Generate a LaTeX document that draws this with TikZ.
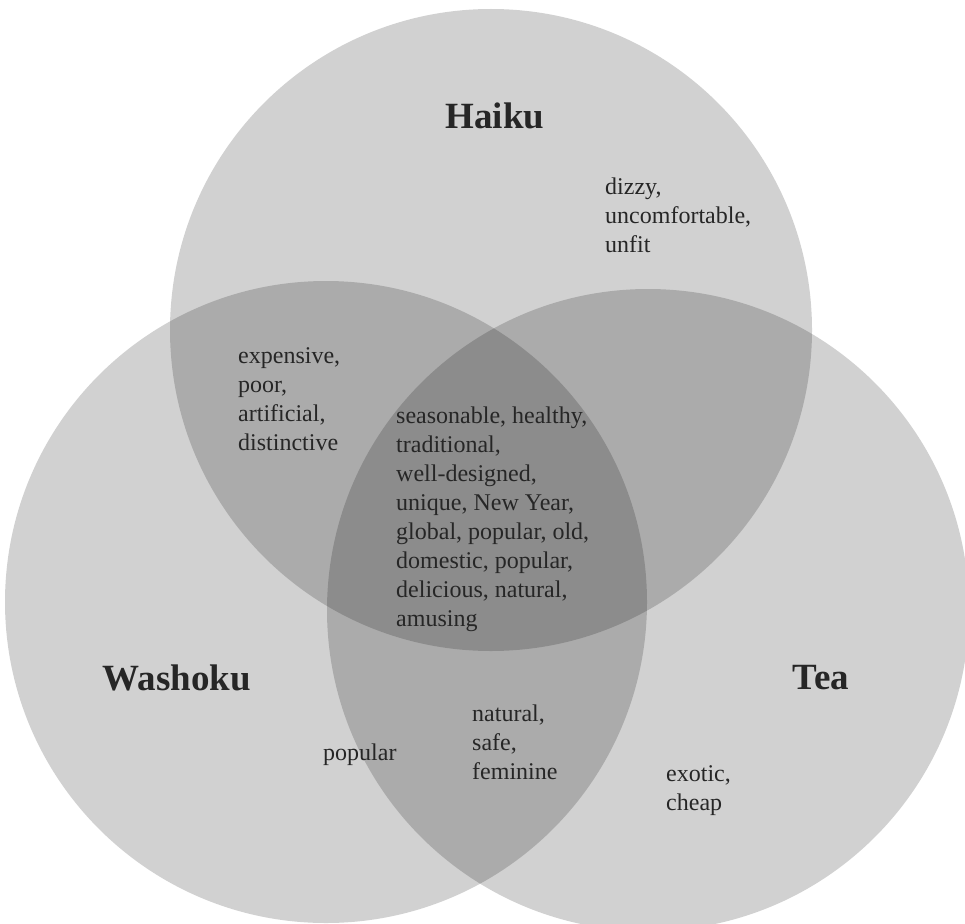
\documentclass[tikz,border=0pt]{standalone}
\usepackage{fontspec}
\setmainfont{Liberation Serif}
\usetikzlibrary{positioning}

\begin{document}
\begin{tikzpicture}[x=1pt, y=-1pt,
  venn/.style={
    circle, fill=black, fill opacity=0.18, draw=none,
    minimum size=642pt, inner sep=0pt
  },
  title/.style={
    font=\fontsize{37}{44}\selectfont\bfseries, text=black!85, inner sep=0pt
  },
  words/.style={
    align=left, font=\fontsize{24}{29}\selectfont, text=black!85,
    inner sep=0pt, anchor=west
  }
]
\useasboundingbox (0,0) rectangle (965,923);
\clip (0,0) rectangle (965,923);

% Circles
\node[venn] (haiku) at (491,330) {};
\node[venn] (washoku) at (326,602) {};
\node[venn] (tea) at (648,610) {};

% Titles
\node[title] (haikutitle) at (495,116) {Haiku};
\node[title] (washokutitle) at (177,678) {Washoku};
\node[title] (teatitle) at (821,678) {Tea};

% Words
\node[words] (onlyhaiku) at (605,215) {dizzy,\\ uncomfortable,\\ unfit};
\node[words] (haikuwashoku) at (238,399) {expensive,\\ poor,\\ artificial,\\ distinctive};
\node[words] (all) at (396,519) {seasonable, healthy,\\ traditional,\\ well-designed,\\ unique, New Year,\\ global, popular, old,\\ domestic, popular,\\ delicious, natural,\\ amusing};
\node[words] (onlywashoku) at (323,755) {popular};
\node[words] (washokutea) at (472,742) {natural,\\ safe,\\ feminine};
\node[words] (onlytea) at (666,791) {exotic,\\ cheap};

\end{tikzpicture}
\end{document}
